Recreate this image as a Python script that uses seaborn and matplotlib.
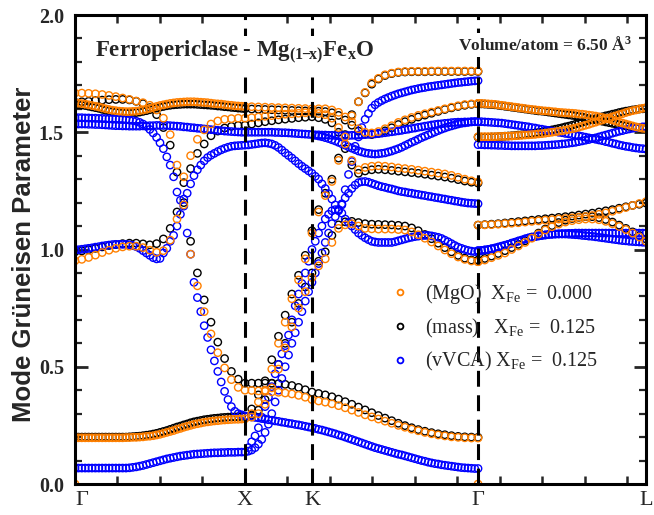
import numpy as np
import pandas as pd
import matplotlib
matplotlib.use("Agg")
import matplotlib.pyplot as plt
import seaborn as sns
from matplotlib.lines import Line2D
from matplotlib.ticker import MultipleLocator, FormatStrFormatter

# ---------------- data ----------------
kpath_labels = ["Γ", "X", "K", "Γ", "L"]
kpath_pos = [0.0, 1.0, 1.394, 2.371, 3.359]

dataset_names = ["(MgO)", "(mass)", "(vVCA)"]
dataset_colors = ["#FF8000", "#000000", "#0000FF"]

# MgO  (X_Fe = 0.000)
mgo_GX = [
    [1.667,1.667,1.666,1.664,1.661,1.657,1.652,1.646,1.640,1.633,1.626,1.615,1.595,1.560,1.490,1.360,1.310,1.400,1.470,1.510,1.535,1.548,1.555,1.558,1.560,1.560],
    [1.626,1.624,1.622,1.620,1.617,1.614,1.611,1.608,1.604,1.600,
     1.597,1.594,1.592,1.590,1.589,1.588,1.588,1.589,1.590,1.592,
     1.595,1.598,1.602,1.606,1.610,1.614,1.617,1.620,1.623,1.625,
     1.627,1.628,1.629,1.630,1.630,1.630,1.629,1.628,1.627,1.626,
     1.624,1.622,1.621,1.620,1.618,1.616,1.615,1.613,1.612,1.611,1.610],
    [0.952,0.958,0.966,0.976,0.987,0.997,1.005,1.011,1.014,1.014,1.008,0.997,0.988,0.995,1.040,1.130,1.190,0.980,0.845,0.735,0.640,0.560,0.495,0.445,0.412,0.400],
    [0.197,0.197,0.197,0.197,0.197,0.197,0.197,0.197,0.197,0.197,
     0.197,0.197,0.197,0.197,0.197,0.198,0.198,0.199,0.199,0.200,
     0.201,0.203,0.204,0.206,0.209,0.212,0.216,0.220,0.224,0.228,
     0.233,0.237,0.242,0.246,0.250,0.254,0.257,0.260,0.263,0.265,
     0.267,0.269,0.270,0.272,0.273,0.274,0.275,0.276,0.276,0.277,0.278],
    [0.000],
]
mgo_XK = [
    [1.562,1.565,1.568,1.571,1.574,1.577,1.579,1.581,1.583,1.585],
    [1.609,1.608,1.607,1.606,1.605,1.604,1.603,1.602,1.601,1.600],
    [0.399,0.397,0.395,0.393,0.391,0.388,0.384,0.378,0.370,0.360],
    [0.300,0.350,0.400,0.490,0.600,0.690,0.790,0.870,0.960,1.070],
    [0.285,0.300,0.340,0.410,0.490,0.580,0.670,0.750,0.820,0.880],
]
mgo_KG = [
    [1.580,1.575,1.560,1.520,1.450,1.380,1.340,1.350,1.355,1.357,1.355,1.352,1.348,1.345,1.342,1.338,1.334,1.330,1.326,1.322,1.316,1.308,1.300,1.293,1.288],
    [1.600,1.600,1.595,1.585,1.565,1.545,1.515,1.500,1.497,1.503,1.515,1.528,1.542,1.553,1.563,1.572,1.579,1.586,1.593,1.600,1.607,1.613,1.618,1.621,1.623],
    [0.354,0.349,0.342,0.334,0.325,0.315,0.305,0.295,0.286,0.277,0.268,0.259,0.250,0.242,0.234,0.227,0.220,0.214,0.209,0.205,0.201,0.199,0.197,0.196,0.196],
    [1.160,1.230,1.290,1.380,1.480,1.570,1.630,1.670,1.710,1.730,1.745,1.752,1.757,1.759,1.760,1.760,1.760,1.761,1.761,1.761,1.761,1.761,1.761,1.761,1.761],
    [0.930,0.960,1.030,1.090,1.105,1.110,1.100,1.090,1.088,1.087,1.087,1.087,1.085,1.083,1.075,1.063,1.048,1.032,1.015,0.998,0.982,0.968,0.958,0.951,0.948],
]
mgo_GL = [
    [1.623,1.623,1.622,1.621,1.620,1.619,1.617,1.615,1.613,1.611,
     1.609,1.607,1.605,1.603,1.601,1.599,1.597,1.596,1.594,1.592,
     1.591,1.590,1.588,1.587,1.585,1.584,1.583,1.582,1.581,1.580,
     1.578,1.577,1.575,1.573,1.571,1.569,1.566,1.563,1.560,1.556,
     1.552,1.548,1.543,1.539,1.535,1.531,1.527,1.523,1.520,1.517,1.515],
    [1.481,1.481,1.481,1.481,1.481,1.481,1.482,1.482,1.483,1.483,
     1.484,1.485,1.486,1.487,1.488,1.489,1.490,1.491,1.493,1.494,
     1.496,1.498,1.500,1.502,1.504,1.506,1.509,1.512,1.515,1.518,
     1.522,1.526,1.530,1.534,1.539,1.543,1.548,1.552,1.557,1.561,
     1.566,1.570,1.575,1.579,1.584,1.588,1.592,1.595,1.599,1.602,1.605],
    [1.104,1.105,1.106,1.108,1.110,1.112,1.114,1.117,1.120,1.122,1.125,1.127,1.130,1.132,1.135,1.138,1.141,1.145,1.150,1.156,1.163,1.171,1.179,1.188,1.196,1.204],
    [0.948,0.955,0.965,0.975,0.985,1.000,1.015,1.030,1.048,1.066,1.083,1.097,1.108,1.117,1.123,1.127,1.130,1.130,1.127,1.120,1.110,1.098,1.085,1.070,1.053,1.035],
    [0.000],
]

# mass approximation (X_Fe = 0.125)
mass_GX = [
    [1.628,1.630,1.632,1.635,1.637,1.639,1.640,1.640,1.638,1.632,1.622,1.605,1.575,1.520,1.445,1.330,1.285,1.345,1.410,1.450,1.485,1.505,1.518,1.525,1.529,1.530],
    [1.620,1.618,1.616,1.614,1.611,1.608,1.605,1.602,1.598,1.594,
     1.591,1.588,1.586,1.584,1.583,1.582,1.582,1.583,1.584,1.586,
     1.589,1.592,1.596,1.600,1.603,1.607,1.610,1.613,1.615,1.617,
     1.618,1.619,1.620,1.620,1.620,1.620,1.619,1.618,1.617,1.616,
     1.615,1.614,1.612,1.611,1.609,1.608,1.606,1.605,1.603,1.602,1.600],
    [0.990,0.994,0.999,1.005,1.011,1.017,1.021,1.025,1.027,1.027,1.024,1.020,1.025,1.045,1.090,1.160,1.200,1.035,0.900,0.785,0.690,0.605,0.535,0.480,0.447,0.430],
    [0.200,0.200,0.200,0.200,0.200,0.200,0.200,0.200,0.200,0.200,
     0.200,0.200,0.200,0.200,0.200,0.200,0.201,0.202,0.203,0.204,
     0.206,0.208,0.210,0.213,0.216,0.220,0.224,0.228,0.233,0.238,
     0.243,0.247,0.252,0.256,0.261,0.265,0.268,0.271,0.274,0.276,
     0.278,0.280,0.281,0.283,0.284,0.285,0.286,0.286,0.287,0.288,0.289],
]
mass_XK = [
    [1.535,1.540,1.545,1.549,1.553,1.556,1.559,1.562,1.564,1.566],
    [1.599,1.598,1.597,1.596,1.595,1.594,1.593,1.592,1.591,1.590],
    [0.430,0.430,0.430,0.429,0.428,0.425,0.420,0.412,0.402,0.392],
    [0.320,0.380,0.440,0.530,0.630,0.720,0.810,0.890,0.975,1.080],
    [0.295,0.315,0.360,0.430,0.510,0.600,0.690,0.770,0.840,0.900],
]
mass_KG = [
    [1.562,1.555,1.540,1.500,1.430,1.360,1.325,1.335,1.340,1.342,1.340,1.337,1.334,1.331,1.328,1.325,1.321,1.317,1.313,1.309,1.304,1.298,1.292,1.287,1.283],
    [1.590,1.588,1.583,1.572,1.552,1.530,1.505,1.492,1.490,1.495,1.506,1.519,1.533,1.545,1.555,1.565,1.573,1.581,1.589,1.597,1.604,1.610,1.615,1.619,1.621],
    [0.386,0.380,0.372,0.362,0.351,0.340,0.328,0.316,0.304,0.292,0.281,0.270,0.259,0.249,0.240,0.232,0.225,0.219,0.214,0.210,0.206,0.203,0.201,0.200,0.199],
    [1.170,1.240,1.300,1.390,1.490,1.575,1.630,1.668,1.705,1.727,1.742,1.750,1.755,1.757,1.758,1.758,1.758,1.759,1.759,1.759,1.759,1.759,1.759,1.759,1.759],
    [0.950,0.990,1.060,1.105,1.118,1.120,1.115,1.110,1.108,1.107,1.106,1.105,1.103,1.100,1.092,1.080,1.064,1.046,1.027,1.008,0.990,0.975,0.963,0.955,0.952],
]
mass_GL = [
    [1.621,1.621,1.620,1.619,1.618,1.617,1.615,1.613,1.611,1.609,
     1.607,1.605,1.603,1.601,1.599,1.597,1.595,1.593,1.591,1.590,
     1.588,1.586,1.584,1.582,1.580,1.578,1.576,1.574,1.572,1.570,
     1.567,1.565,1.562,1.559,1.556,1.553,1.550,1.547,1.544,1.541,
     1.538,1.535,1.532,1.530,1.527,1.525,1.522,1.520,1.518,1.516,1.515],
    [1.479,1.479,1.479,1.479,1.480,1.480,1.481,1.482,1.483,1.484,
     1.485,1.486,1.488,1.489,1.491,1.493,1.495,1.497,1.499,1.501,
     1.504,1.507,1.510,1.513,1.516,1.519,1.523,1.526,1.530,1.534,
     1.538,1.542,1.546,1.550,1.554,1.558,1.562,1.566,1.570,1.573,
     1.577,1.580,1.584,1.587,1.590,1.592,1.595,1.597,1.599,1.600,1.602],
    [1.104,1.106,1.108,1.110,1.113,1.116,1.119,1.122,1.125,1.128,1.131,1.134,1.137,1.140,1.143,1.147,1.151,1.155,1.160,1.165,1.170,1.176,1.182,1.188,1.193,1.198],
    [0.955,0.962,0.972,0.983,0.995,1.008,1.022,1.037,1.053,1.070,1.087,1.102,1.115,1.125,1.132,1.137,1.140,1.140,1.136,1.128,1.117,1.104,1.090,1.075,1.060,1.045],
]

# vVCA (X_Fe = 0.125) -- finer k sampling
vvca_GX = [
    [1.562,1.562,1.562,1.561,1.561,1.560,1.560,1.559,1.559,1.558,
     1.558,1.557,1.557,1.556,1.555,1.554,1.552,1.550,1.547,1.542,
     1.535,1.525,1.512,1.497,1.478,1.455,1.430,1.395,1.360,1.310,
     1.245,1.210,1.215,1.240,1.280,1.315,1.340,1.360,1.378,1.392,
     1.402,1.410,1.418,1.425,1.431,1.436,1.440,1.442,1.443,1.444,1.445],
    [1.535,1.535,1.535,1.535,1.534,1.534,1.533,1.533,1.532,1.531,
     1.530,1.529,1.528,1.528,1.527,1.527,1.526,1.526,1.526,1.526,
     1.527,1.527,1.528,1.528,1.529,1.529,1.529,1.529,1.528,1.527,
     1.526,1.525,1.523,1.522,1.520,1.519,1.517,1.516,1.514,1.513,
     1.511,1.510,1.508,1.507,1.505,1.504,1.503,1.502,1.501,1.500,1.500],
    [0.998,0.999,1.001,1.003,1.005,1.007,1.010,1.012,1.015,1.017,
     1.019,1.021,1.022,1.022,1.022,1.022,1.020,1.017,1.012,1.005,
     0.995,0.985,0.975,0.965,0.960,0.962,0.985,1.005,1.035,1.060,
     1.100,1.150,1.185,1.070,0.980,0.860,0.795,0.735,0.675,0.625,
     0.572,0.525,0.480,0.435,0.395,0.360,0.330,0.310,0.300,0.295,0.290],
    [0.068,0.068,0.068,0.068,0.068,0.068,0.068,0.068,0.068,0.068,
     0.068,0.068,0.068,0.068,0.068,0.068,0.069,0.071,0.073,0.076,
     0.079,0.083,0.087,0.091,0.095,0.099,0.103,0.107,0.110,0.113,
     0.116,0.119,0.121,0.123,0.125,0.127,0.128,0.129,0.130,0.131,
     0.132,0.133,0.133,0.134,0.134,0.135,0.135,0.135,0.136,0.136,0.136],
]
vvca_XK = [
    [1.446,1.448,1.450,1.452,1.454,1.455,1.453,1.450,1.444,1.435,
     1.424,1.412,1.401,1.390,1.378,1.366,1.355,1.345,1.335,1.325],
    [1.500,1.500,1.500,1.500,1.500,1.500,1.500,1.500,1.499,1.499,
     1.498,1.498,1.497,1.496,1.495,1.494,1.493,1.492,1.491,1.490],
    [0.288,0.286,0.284,0.282,0.279,0.277,0.274,0.272,0.269,0.267,
     0.264,0.262,0.259,0.257,0.254,0.252,0.249,0.246,0.243,0.240],
    [0.155,0.180,0.205,0.240,0.285,0.330,0.370,0.415,0.470,0.510,
     0.555,0.590,0.635,0.700,0.760,0.810,0.855,0.900,0.950,1.000],
    [0.140,0.145,0.155,0.170,0.190,0.220,0.255,0.300,0.350,0.400,
     0.450,0.500,0.550,0.600,0.645,0.690,0.735,0.780,0.820,0.860],
]
vvca_KG = [
    [1.312,1.300,1.280,1.260,1.238,1.215,1.190,1.165,1.190,1.255,
     1.320,1.375,1.440,1.480,1.520,1.555,1.580,1.603,1.617,1.627,
     1.635,1.642,1.648,1.654,1.659,1.664,1.668,1.672,1.676,1.680,
     1.683,1.686,1.689,1.691,1.694,1.696,1.698,1.700,1.702,1.704,
     1.706,1.708,1.710,1.712,1.713,1.715,1.716,1.718,1.719,1.720],
    [1.487,1.484,1.481,1.477,1.473,1.468,1.463,1.457,1.451,1.445,
     1.438,1.432,1.426,1.420,1.416,1.412,1.410,1.408,1.407,1.408,
     1.410,1.412,1.416,1.420,1.425,1.430,1.436,1.443,1.450,1.457,
     1.463,1.470,1.477,1.483,1.489,1.495,1.501,1.507,1.513,1.518,
     1.523,1.527,1.531,1.535,1.538,1.540,1.542,1.544,1.545,1.545],
    [0.237,0.233,0.230,0.226,0.222,0.218,0.214,0.209,0.205,0.200,
     0.195,0.190,0.185,0.180,0.175,0.170,0.165,0.160,0.155,0.151,
     0.147,0.143,0.139,0.135,0.131,0.127,0.124,0.120,0.116,0.112,
     0.108,0.104,0.100,0.097,0.093,0.090,0.087,0.085,0.082,0.080,
     0.078,0.076,0.074,0.072,0.070,0.069,0.068,0.067,0.066,0.066],
    [1.035,1.070,1.100,1.130,1.150,1.165,1.170,1.170,1.155,1.130,
     1.115,1.100,1.085,1.070,1.060,1.050,1.042,1.035,1.032,1.030,
     1.030,1.030,1.030,1.030,1.033,1.037,1.041,1.045,1.049,1.052,
     1.055,1.057,1.059,1.060,1.060,1.058,1.055,1.052,1.047,1.040,
     1.033,1.025,1.017,1.010,1.005,1.000,0.996,0.993,0.991,0.990],
    [0.900,0.940,0.985,1.030,1.070,1.110,1.140,1.170,1.195,1.220,
     1.240,1.260,1.275,1.285,1.289,1.290,1.287,1.282,1.277,1.272,
     1.268,1.265,1.261,1.258,1.254,1.250,1.247,1.245,1.242,1.240,
     1.237,1.235,1.232,1.230,1.227,1.225,1.222,1.220,1.217,1.215,
     1.212,1.210,1.207,1.205,1.202,1.200,1.198,1.197,1.196,1.195],
    [1.489,1.489,1.488,1.488,1.487,1.487,1.486,1.486,1.486,1.486,
     1.486,1.487,1.487,1.488,1.489,1.490,1.491,1.492,1.493,1.495,
     1.496,1.498,1.500,1.502,1.504,1.506,1.508,1.511,1.513,1.516,
     1.518,1.521,1.523,1.526,1.528,1.531,1.533,1.535,1.536,1.538,
     1.539,1.541,1.542,1.543,1.543,1.544,1.544,1.545,1.545,1.545],
]
vvca_GL = [
    [1.545,1.545,1.544,1.543,1.542,1.541,1.540,1.539,1.537,1.535,
     1.533,1.531,1.529,1.527,1.525,1.523,1.520,1.518,1.515,1.513,
     1.510,1.508,1.505,1.503,1.500,1.498,1.495,1.493,1.490,1.488,
     1.485,1.482,1.479,1.476,1.473,1.470,1.467,1.464,1.460,1.457,
     1.453,1.450,1.446,1.443,1.440,1.438,1.435,1.433,1.431,1.430,1.428],
    [1.447,1.447,1.446,1.446,1.445,1.445,1.444,1.444,1.443,1.443,
     1.442,1.442,1.442,1.442,1.442,1.442,1.442,1.442,1.443,1.443,
     1.444,1.445,1.446,1.447,1.448,1.450,1.451,1.453,1.455,1.457,
     1.460,1.463,1.466,1.469,1.473,1.476,1.480,1.484,1.488,1.492,
     1.496,1.500,1.504,1.507,1.511,1.514,1.517,1.519,1.521,1.523,1.524],
    [0.995,0.996,0.998,1.000,1.003,1.006,1.010,1.014,1.018,1.022,
     1.027,1.031,1.036,1.040,1.045,1.049,1.052,1.055,1.058,1.060,
     1.062,1.064,1.065,1.066,1.067,1.068,1.068,1.069,1.069,1.070,
     1.070,1.070,1.070,1.070,1.070,1.070,1.070,1.070,1.070,1.070,
     1.070,1.070,1.070,1.070,1.070,1.070,1.070,1.070,1.070,1.070,1.070],
    [0.995,0.996,0.998,1.000,1.003,1.006,1.010,1.014,1.018,1.022,
     1.027,1.031,1.036,1.040,1.045,1.049,1.052,1.055,1.058,1.060,
     1.062,1.064,1.065,1.066,1.066,1.066,1.066,1.065,1.064,1.063,
     1.062,1.060,1.059,1.057,1.056,1.054,1.052,1.050,1.048,1.046,
     1.044,1.042,1.040,1.038,1.037,1.035,1.034,1.033,1.032,1.031,1.030],
]

legend_labels = [
    r"(MgO)  X$_{\mathrm{Fe}}$ =  0.000",
    r"(mass)   X$_{\mathrm{Fe}}$ =  0.125",
    r"(vVCA) X$_{\mathrm{Fe}}$ =  0.125",
]

# ---------------- build table ----------------
def seg_positions(seg, n):
    a, b = kpath_pos[seg], kpath_pos[seg + 1]
    if seg in (0, 3):
        return np.linspace(a, b, n)
    return np.linspace(a, b, n + 1)[1:]

all_sets = {
    "(MgO)": [mgo_GX, mgo_XK, mgo_KG, mgo_GL],
    "(mass)": [mass_GX, mass_XK, mass_KG, mass_GL],
    "(vVCA)": [vvca_GX, vvca_XK, vvca_KG, vvca_GL],
}
rows = []
for name, segs in all_sets.items():
    for seg, branches in enumerate(segs):
        for br in branches:
            xs = seg_positions(seg, len(br))
            for xv, yv in zip(xs, br):
                rows.append((name, xv, yv))
df = pd.DataFrame(rows, columns=["set", "k", "gamma"])

# ---------------- plot ----------------
sns.set_theme(style="white")
plt.rcParams["font.family"] = ["Liberation Serif", "DejaVu Serif"]
plt.rcParams["mathtext.fontset"] = "custom"
plt.rcParams["mathtext.rm"] = "Liberation Serif"
plt.rcParams["mathtext.it"] = "Liberation Serif:italic"
plt.rcParams["mathtext.bf"] = "Liberation Serif:bold"

fig = plt.figure(figsize=(6.54, 5.15), dpi=100)
ax = fig.add_axes([75 / 654, 1 - 484 / 515, 571 / 654, 469 / 515])

color_of = dict(zip(dataset_names, dataset_colors))
for name in ["(mass)", "(vVCA)", "(MgO)"]:
    sub = df[df["set"] == name]
    sns.scatterplot(data=sub, x="k", y="gamma", ax=ax, marker="o", s=28,
                    color=color_of[name], facecolor="none", edgecolor=color_of[name],
                    linewidth=1.0, legend=False, zorder=2, clip_on=True)

for xv in kpath_pos[1:4]:
    ax.axvline(xv, color="black", lw=2.2, dashes=(5.2, 2.8), zorder=4)

ax.set_xlim(kpath_pos[0], kpath_pos[-1])
ax.set_ylim(0, 2.0)
ax.set_xlabel("")
ax.set_ylabel("Mode Grüneisen Parameter", fontfamily=["Liberation Sans", "DejaVu Sans"],
              fontweight="bold", fontsize=18.5)
ax.yaxis.set_label_coords(-0.069, 0.49)

ax.set_xticks(kpath_pos)
ax.set_xticklabels(kpath_labels, fontsize=16)
ax.get_xticklabels()[0].set_horizontalalignment("left")
ax.xaxis.set_minor_locator(MultipleLocator(0.25))
ax.yaxis.set_major_locator(MultipleLocator(0.5))
ax.yaxis.set_minor_locator(MultipleLocator(0.1))
ax.yaxis.set_major_formatter(FormatStrFormatter("%.1f"))
for lab in ax.get_yticklabels():
    lab.set_fontweight("bold")
    lab.set_fontsize(14.5)

ax.tick_params(axis="x", which="major", length=0, pad=5, top=False)
ax.tick_params(axis="x", which="minor", direction="in", length=6, width=1.8, top=True, bottom=True)
ax.tick_params(axis="y", which="major", direction="in", length=9, width=2.0, left=True, right=True, pad=8)
ax.tick_params(axis="y", which="minor", direction="in", length=5, width=1.6, left=True, right=True)
for sp in ax.spines.values():
    sp.set_linewidth(2.2)
    sp.set_color("black")
    sp.set_zorder(5)

ax.text(0.035, 0.91, r"Ferropericlase - Mg$_{\mathbf{(1\!\!-\!\!x)}}$Fe$_{\mathbf{x}}$O",
        transform=ax.transAxes, fontsize=16.5, fontweight="bold", va="baseline", ha="left",
        zorder=6, bbox=dict(facecolor="white", edgecolor="none", pad=2))
ax.text(0.671, 0.925, r"Volume/atom = 6.50 Å$^{\mathbf{3}}$",
        transform=ax.transAxes, fontsize=12.5, fontweight="bold", va="baseline", ha="left",
        zorder=6, bbox=dict(facecolor="white", edgecolor="none", pad=2))

handles = [Line2D([], [], ls="none", marker="o", ms=4.2, mfc="none", mec=c, mew=1.3)
           for c in dataset_colors]
leg = ax.legend(handles, legend_labels, loc="upper left", bbox_to_anchor=(0.552, 0.43),
                frameon=False, fontsize=14.5, handlelength=1.0, handletextpad=0.75,
                labelspacing=0.52, borderpad=0, borderaxespad=0)

fig.savefig("out.png", dpi=100)
